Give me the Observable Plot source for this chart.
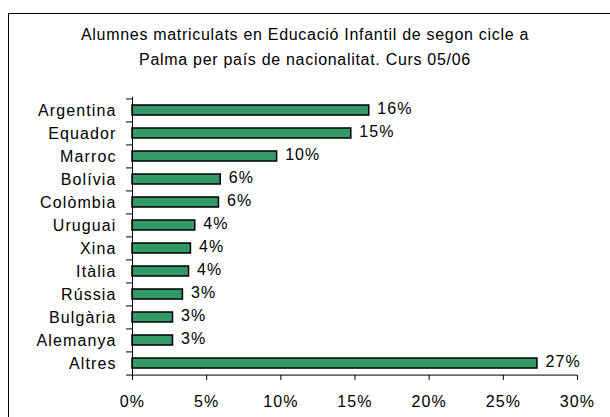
<!DOCTYPE html>
<html>
<head>
<meta charset="utf-8">
<script src="https://cdn.jsdelivr.net/npm/d3@7"></script>
<script src="https://cdn.jsdelivr.net/npm/@observablehq/plot@0.6"></script>
<style>
  html, body { margin: 0; padding: 0; background: #fff; overflow: hidden; }
  #wrap { position: relative; width: 610px; height: 417px; overflow: hidden; font-family: "Liberation Sans", Arial, sans-serif; }
  #border { position: absolute; left: 8px; top: 13px; width: 700px; height: 500px; border-left: 1.5px solid #000; border-top: 1.5px solid #000; box-sizing: border-box; }
  #title { position: relative; height: 90px; box-sizing: border-box; padding-top: 22px; text-align: center; font-size: 16px; letter-spacing: 0.7px; line-height: 25px; color: #000; }
  #chart { position: relative; display: block; }
  #chart svg text { letter-spacing: 1.1px; }
</style>
</head>
<body>
<div id="wrap">
  <div id="border"></div>
  <div id="title">Alumnes matriculats en Educació Infantil de segon cicle a<br>Palma per país de nacionalitat. Curs 05/06</div>
  <div id="chart"></div>
</div>
<script>
const countries = ["Argentina", "Equador", "Marroc", "Bolívia", "Colòmbia", "Uruguai", "Xina", "Itàlia", "Rússia", "Bulgària", "Alemanya", "Altres"];
const shares = [15.96, 14.75, 9.75, 5.95, 5.83, 4.23, 3.94, 3.81, 3.4, 2.73, 2.73, 27.3];
const xTicks = [0, 5, 10, 15, 20, 25, 30];

const data = countries.map((c, i) => ({country: c, value: shares[i]}));

const W = 610, H = 327, mT = 7, mB = 42, mL = 132, mR = 33;
const step = (H - mT - mB) / countries.length;

const chart = Plot.plot({
  width: W,
  height: H,
  marginTop: mT,
  marginBottom: mB,
  marginLeft: mL,
  marginRight: mR,
  style: {fontFamily: "'Liberation Sans', Arial, sans-serif", fontSize: "16px", color: "#000", background: "transparent", overflow: "visible"},
  x: {domain: [0, 30], ticks: xTicks, tickFormat: d => d + "%", label: null},
  y: {domain: countries, paddingInner: 0.57, paddingOuter: 0.285, label: null},
  marks: [
    Plot.barX(data, {x: "value", y: "country", fill: "#339966", stroke: "#000", strokeWidth: 1.5}),
    Plot.text(data, {x: "value", y: "country", text: d => Math.round(d.value) + "%", textAnchor: "start", dx: 8, dy: -2, fontSize: 16, fill: "#000"}),
    Plot.ruleX([0], {stroke: "#000", strokeWidth: 1}),
    Plot.ruleY(["Altres"], {y: d => d, dy: step / 2, stroke: "#000", strokeWidth: 1}),
    Plot.axisY({tickSize: 0, tickPadding: 16, fontSize: 16}),
    Plot.axisY({tickSize: 6, dy: -step / 2, fill: "none", stroke: "#000"}),
    Plot.axisY(["Altres"], {tickSize: 6, dy: step / 2, fill: "none", stroke: "#000"}),
    Plot.axisX({ticks: xTicks, tickSize: 5, tickPadding: 15, tickFormat: d => d + "%", fontSize: 16, label: null, stroke: "#000"})
  ]
});
document.getElementById("chart").appendChild(chart);
</script>
</body>
</html>
